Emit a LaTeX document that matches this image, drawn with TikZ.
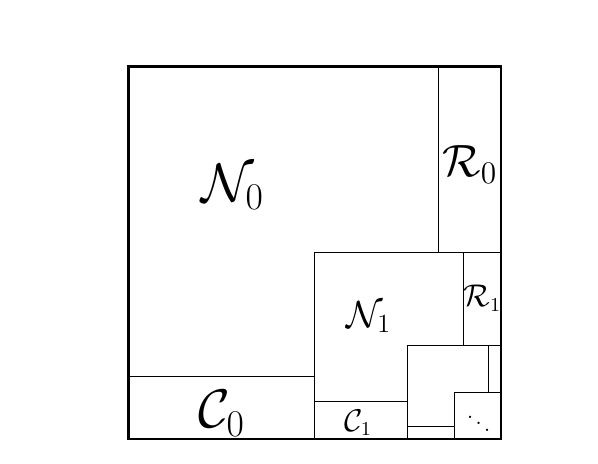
\documentclass[tikz,border=0pt]{standalone}
\begin{document}
\begin{tikzpicture}[
    outer/.style={line width=1.2pt},
    cut/.style={line width=0.5pt},
    lbl/.style={inner sep=0pt},
    big/.style={lbl, font=\fontsize{24}{28}\selectfont},
    mid/.style={lbl, font=\fontsize{18}{21}\selectfont},
    small/.style={lbl, font=\fontsize{13.5}{16}\selectfont}]

  \useasboundingbox (-2.07,-0.395) rectangle (7.5625,7.071);

  % level 0
  \draw[outer] (0,0) rectangle (6,6);
  \draw[cut] (5,6) -- (5,3);
  \draw[cut] (3,0) -- (3,3) -- (6,3);
  \draw[cut] (0,1) -- (3,1);
  % level 1
  \draw[cut] (5.4,3) -- (5.4,1.5);
  \draw[cut] (4.5,0) -- (4.5,1.5) -- (6,1.5);
  \draw[cut] (3,0.6) -- (4.5,0.6);
  % level 2
  \draw[cut] (5.8,1.5) -- (5.8,0.75);
  \draw[cut] (5.25,0) -- (5.25,0.75) -- (6,0.75);
  \draw[cut] (4.5,0.2) -- (5.25,0.2);

  \node[big]   (n0) at (1.675,4.06) {$\mathcal{N}_0$};
  \node[big, font=\fontsize{22}{26}\selectfont] (r0) at (5.50,4.42) {$\mathcal{R}_0$};
  \node[big]   (c0) at (1.498,0.41) {$\mathcal{C}_0$};
  \node[mid]   (n1) at (3.87,1.96)  {$\mathcal{N}_1$};
  \node[small] (r1) at (5.70,2.27)  {$\mathcal{R}_1$};
  \node[small] (c1) at (3.70,0.26)  {$\mathcal{C}_1$};
  \node[lbl]   (dots) at (5.64,0.35) {$\ddots$};
\end{tikzpicture}
\end{document}
